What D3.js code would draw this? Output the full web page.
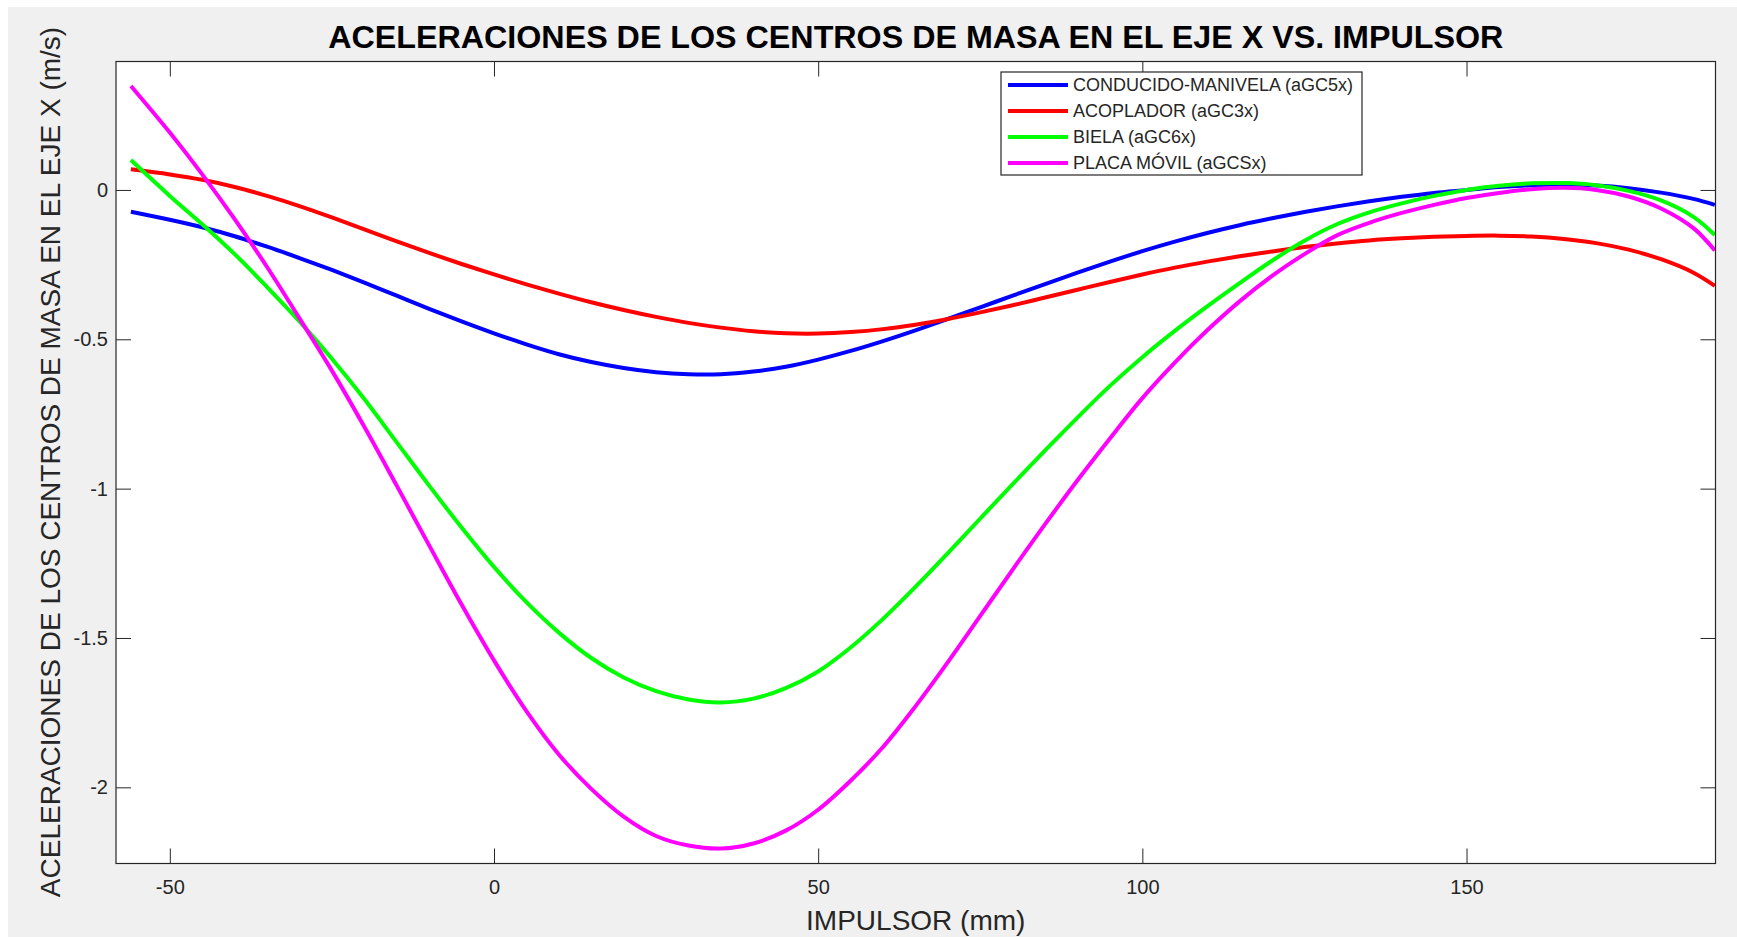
<!doctype html>
<html lang="es">

<head>
  <meta charset="utf-8">
  <title>Aceleraciones de los centros de masa en el eje X vs. impulsor</title>
  <script src="https://d3js.org/d3.v7.min.js"></script>
  <style>
    body {
      margin: 0;
      background: #ffffff;
    }

    svg text {
      font-family: Arial, "Liberation Sans", Helvetica, sans-serif;
    }

    .axis text {
      font-size: 20px;
      fill: #262626;
    }

    .axis line {
      stroke: #262626;
    }

    .axis path {
      display: none;
    }
  </style>
</head>

<body>
  <svg width="1737" height="937"></svg>
  <script>

    // impulsor (mm)
    var impulsor = [-56, -50, -45, -40, -35, -30, -25, -20, -15, -10, -5, 0, 5, 10, 15, 20, 25, 30, 35, 40,
      45, 50, 55, 60, 65, 70, 75, 80, 85, 90, 95, 100, 105, 110, 115, 120, 125, 130, 135, 140,
      145, 150, 155, 160, 165, 170, 175, 180, 185, 188.3];

    // aGC5x - conducido-manivela
    var aGC5x = [-0.073, -0.1, -0.125, -0.155, -0.19, -0.228, -0.268, -0.31, -0.354, -0.398, -0.44, -0.48,
      -0.517, -0.55, -0.576, -0.596, -0.61, -0.617, -0.617, -0.608, -0.592, -0.568, -0.539, -0.506, -0.47,
      -0.432, -0.393, -0.354, -0.315, -0.277, -0.24, -0.205, -0.173, -0.144, -0.118, -0.095, -0.074, -0.055,
      -0.038, -0.023, -0.01, 0.0, 0.01, 0.016, 0.018, 0.015, 0.006, -0.009, -0.03, -0.05];

    // aGC3x - acoplador
    var aGC3x = [0.069, 0.052, 0.034, 0.01, -0.02, -0.054, -0.092, -0.132, -0.172, -0.211, -0.248, -0.283,
      -0.316, -0.347, -0.376, -0.402, -0.425, -0.445, -0.461, -0.473, -0.48, -0.481, -0.476, -0.466, -0.451,
      -0.432, -0.41, -0.386, -0.36, -0.334, -0.308, -0.283, -0.26, -0.24, -0.222, -0.206, -0.191, -0.179,
      -0.169, -0.162, -0.157, -0.154, -0.153, -0.156, -0.164, -0.178, -0.2, -0.232, -0.277, -0.321];

    // aGC6x - biela
    var aGC6x = [0.1, -0.02, -0.115, -0.215, -0.325, -0.44, -0.565, -0.7, -0.845, -0.99, -1.13, -1.262,
      -1.38, -1.482, -1.567, -1.632, -1.678, -1.706, -1.716, -1.703, -1.668, -1.612, -1.532, -1.436, -1.329,
      -1.216, -1.1, -0.985, -0.872, -0.762, -0.656, -0.56, -0.472, -0.39, -0.312, -0.237, -0.17, -0.115,
      -0.075, -0.045, -0.02, 0.0, 0.014, 0.022, 0.023, 0.016, -0.003, -0.035, -0.09, -0.151];

    // aGCSx - placa movil
    var aGCSx = [0.348, 0.192, 0.052, -0.098, -0.258, -0.43, -0.605, -0.793, -0.99, -1.19, -1.388, -1.575,
      -1.745, -1.89, -2.005, -2.098, -2.163, -2.195, -2.205, -2.188, -2.145, -2.075, -1.978, -1.865, -1.729,
      -1.581, -1.426, -1.271, -1.119, -0.972, -0.832, -0.697, -0.578, -0.47, -0.373, -0.288, -0.215, -0.152,
      -0.11, -0.077, -0.05, -0.027, -0.01, 0.002, 0.007, 0.0, -0.022, -0.062, -0.128, -0.203];

    var seriesNames = ["CONDUCIDO-MANIVELA (aGC5x)", "ACOPLADOR (aGC3x)", "BIELA (aGC6x)", "PLACA MÓVIL (aGCSx)"];
    var seriesColors = ["#0000ff", "#ff0000", "#00ff00", "#ff00ff"];
    var seriesValues = [aGC5x, aGC3x, aGC6x, aGCSx];

    var xTicks = [-50, 0, 50, 100, 150];
    var yTicks = [0, -0.5, -1, -1.5, -2];
    var xLimits = [-58.3, 188.4];
    var yLimits = [-2.255, 0.43];

    var svg = d3.select("svg"),
      plotLeft = 116, plotRight = 1715.5, plotTop = 61.5, plotBottom = 863.5,
      tickLen = 15;

    // figure background
    svg.append("rect")
      .attr("x", 8).attr("y", 7)
      .attr("width", 1729).attr("height", 930)
      .attr("fill", "#f0f0f0");

    svg.append("rect")
      .attr("x", plotLeft).attr("y", plotTop)
      .attr("width", plotRight - plotLeft).attr("height", plotBottom - plotTop)
      .attr("fill", "#ffffff");

    var x = d3.scaleLinear().domain(xLimits).range([plotLeft, plotRight]);
    var y = d3.scaleLinear().domain(yLimits).range([plotBottom, plotTop]);

    svg.append("clipPath").attr("id", "plotclip")
      .append("rect")
      .attr("x", plotLeft).attr("y", plotTop)
      .attr("width", plotRight - plotLeft).attr("height", plotBottom - plotTop);

    // axes with inward ticks (box on)
    svg.append("g").attr("class", "axis")
      .attr("transform", "translate(0," + plotBottom + ")")
      .call(d3.axisBottom(x).tickValues(xTicks).tickSize(-tickLen).tickPadding(16)
        .tickFormat(function (d) { return String(d); }));

    svg.append("g").attr("class", "axis")
      .attr("transform", "translate(0," + plotTop + ")")
      .call(d3.axisTop(x).tickValues(xTicks).tickSize(-tickLen).tickFormat(""));

    svg.append("g").attr("class", "axis")
      .attr("transform", "translate(" + plotLeft + ",0)")
      .call(d3.axisLeft(y).tickValues(yTicks).tickSize(-tickLen).tickPadding(8)
        .tickFormat(function (d) { return String(d); }));

    svg.append("g").attr("class", "axis")
      .attr("transform", "translate(" + plotRight + ",0)")
      .call(d3.axisRight(y).tickValues(yTicks).tickSize(-tickLen).tickFormat(""));

    // curves
    var line = d3.line()
      .x(function (d, i) { return x(impulsor[i]); })
      .y(function (d) { return y(d); })
      .curve(d3.curveCatmullRom);

    svg.append("g").attr("clip-path", "url(#plotclip)")
      .selectAll("path")
      .data(seriesValues)
      .enter().append("path")
      .attr("d", line)
      .attr("fill", "none")
      .attr("stroke", function (d, i) { return seriesColors[i]; })
      .attr("stroke-width", 4)
      .attr("stroke-linejoin", "round");

    // frame
    svg.append("rect")
      .attr("x", plotLeft).attr("y", plotTop)
      .attr("width", plotRight - plotLeft).attr("height", plotBottom - plotTop)
      .attr("fill", "none")
      .attr("stroke", "#262626")
      .attr("stroke-width", 1.2);

    // title and labels
    svg.append("text")
      .attr("x", (plotLeft + plotRight) / 2).attr("y", 48)
      .attr("text-anchor", "middle")
      .attr("textLength", 1175).attr("lengthAdjust", "spacingAndGlyphs")
      .style("font-size", "32px").style("font-weight", "bold").style("fill", "#000")
      .text("ACELERACIONES DE LOS CENTROS DE MASA EN EL EJE X VS. IMPULSOR");

    svg.append("text")
      .attr("x", (plotLeft + plotRight) / 2).attr("y", 930)
      .attr("text-anchor", "middle")
      .style("font-size", "28px").style("fill", "#262626")
      .text("IMPULSOR (mm)");

    svg.append("text")
      .attr("transform", "translate(60,462) rotate(-90)")
      .attr("text-anchor", "middle")
      .style("font-size", "28px").style("fill", "#262626")
      .text("ACELERACIONES DE LOS CENTROS DE MASA EN EL EJE X (m/s)");

    // legend
    var legend = svg.append("g").attr("transform", "translate(1001,72)");

    legend.append("rect")
      .attr("width", 361).attr("height", 103)
      .attr("fill", "#ffffff")
      .attr("stroke", "#262626")
      .attr("stroke-width", 1.2);

    var item = legend.selectAll("g.item")
      .data(seriesNames)
      .enter().append("g")
      .attr("class", "item")
      .attr("transform", function (d, i) { return "translate(0," + (13 + i * 26) + ")"; });

    item.append("line")
      .attr("x1", 7).attr("x2", 67)
      .attr("stroke", function (d, i) { return seriesColors[i]; })
      .attr("stroke-width", 4);

    item.append("text")
      .attr("x", 72).attr("dy", "0.35em")
      .style("font-size", "18px").style("fill", "#262626")
      .text(function (d) { return d; });

  </script>
</body>

</html>
